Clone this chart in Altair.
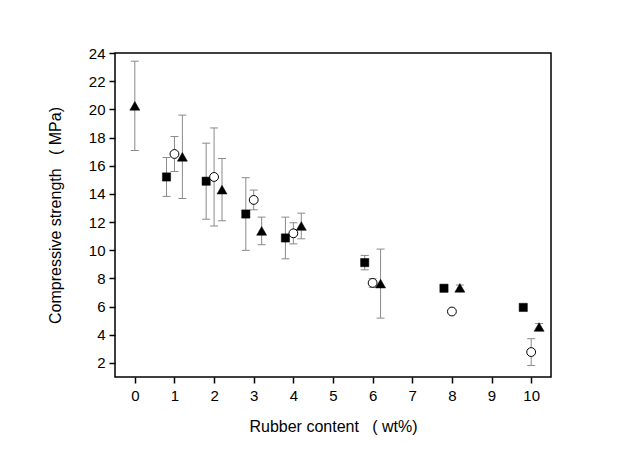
import altair as alt
import pandas as pd

# Series 1: filled squares
sq_x = [0.8, 1.8, 2.8, 3.8, 5.8, 7.8, 9.8]
sq_y = [15.2, 14.9, 12.57, 10.87, 9.12, 7.3, 5.94]
sq_err = [1.38, 2.7, 2.58, 1.48, 0.51, 0.2, 0.0]
# Series 2: open circles
ci_x = [1, 2, 3, 4, 6, 8, 10]
ci_y = [16.83, 15.2, 13.57, 11.2, 7.68, 5.65, 2.77]
ci_err = [1.24, 3.48, 0.7, 0.75, 0.3, 0.0, 0.95]
# Series 3: filled triangles
tr_x = [0, 1.2, 2.2, 3.2, 4.2, 6.2, 8.2, 10.2]
tr_y = [20.25, 16.63, 14.3, 11.37, 11.72, 7.63, 7.33, 4.55]
tr_err = [3.17, 2.96, 2.21, 0.98, 0.91, 2.45, 0.2, 0.25]

x_ticks = list(range(0, 11))
y_ticks = list(range(2, 25, 2))

rows = []
for name, xs, ys, es in [("sq", sq_x, sq_y, sq_err), ("ci", ci_x, ci_y, ci_err), ("tr", tr_x, tr_y, tr_err)]:
    for xv, yv, ev in zip(xs, ys, es):
        rows.append({"series": name, "x": xv, "y": yv, "err": ev, "lo": yv - ev, "hi": yv + ev})
df = pd.DataFrame(rows)

FONT = "Liberation Sans"
NB = "\u00a0"
xscale = alt.Scale(domain=[-0.5, 10.5], nice=False, zero=False)
yscale = alt.Scale(domain=[1, 24], nice=False, zero=False)
xaxis = alt.Axis(values=x_ticks, title=f"Rubber content{NB}{NB}{NB}({NB}wt%)",
                 labelPadding=5, titlePadding=15, labelOverlap=False)
yaxis = alt.Axis(values=y_ticks, title=f"Compressive strength{NB}{NB}{NB}({NB}MPa)",
                 labelPadding=4, titlePadding=25, labelOverlap=False)
X = alt.X("x:Q", scale=xscale, axis=xaxis)
Y = alt.Y("y:Q", scale=yscale, axis=yaxis)
YLO = alt.Y("lo:Q", scale=yscale, axis=yaxis)
YHI = alt.Y("hi:Q", scale=yscale, axis=yaxis)

base = alt.Chart(df)
eb = base.transform_filter("datum.err > 0")
GRAY = "#8a8a8a"
rules = eb.mark_rule(color=GRAY, strokeWidth=1).encode(x=X, y=YLO, y2="hi:Q")
cap_lo = eb.mark_tick(orient="horizontal", size=8, thickness=1, color=GRAY, opacity=1).encode(x=X, y=YLO)
cap_hi = eb.mark_tick(orient="horizontal", size=8, thickness=1, color=GRAY, opacity=1).encode(x=X, y=YHI)

squares = base.transform_filter("datum.series == 'sq'").mark_point(
    shape="square", filled=True, fill="black", stroke="black", strokeWidth=0.5, size=68, opacity=1).encode(x=X, y=Y)
circles = base.transform_filter("datum.series == 'ci'").mark_point(
    shape="circle", filled=True, fill="white", stroke="black", strokeWidth=1, size=78, opacity=1).encode(x=X, y=Y)
triangles = base.transform_filter("datum.series == 'tr'").mark_point(
    shape="triangle-up", filled=True, fill="black", stroke="black", strokeWidth=0.5, size=100, opacity=1).encode(x=X, y=Y)

chart = alt.layer(rules, cap_lo, cap_hi, squares, circles, triangles).properties(
    width=436, height=324,
    autosize=alt.AutoSizeParams(type="none"),
    padding={"left": 107, "top": 45, "right": 80, "bottom": 78},
    background="white",
).configure_view(
    stroke="black", strokeWidth=1.5
).configure_axis(
    grid=False, domain=False, labelOverlap=False,
    labelFont=FONT, titleFont=FONT,
    labelFontSize=15, titleFontSize=16, titleFontWeight="normal",
    labelColor="black", titleColor="black",
    tickColor="black", tickWidth=1.5, tickSize=6,
)

chart.save("out.html", embed_options={"renderer": "svg", "actions": False})
